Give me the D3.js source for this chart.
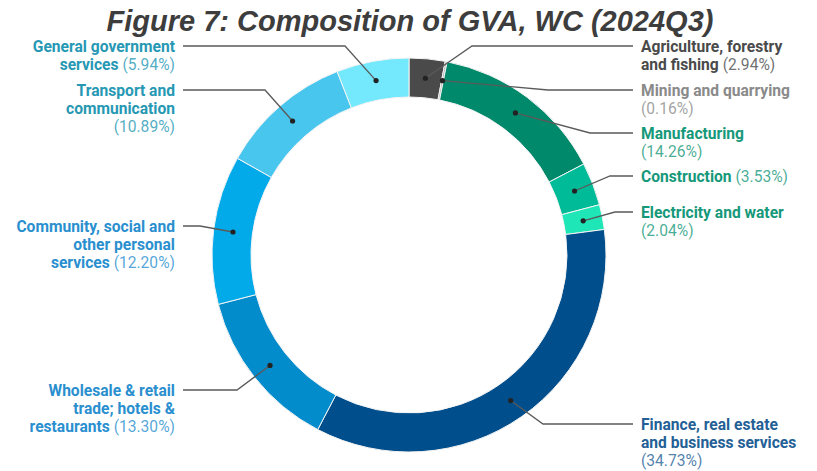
<!DOCTYPE html>
<html>
<head>
<meta charset="utf-8">
<script src="https://cdn.jsdelivr.net/npm/d3@7/dist/d3.min.js"></script>
<style>
  html, body { margin: 0; padding: 0; background: #fff; }
  svg { display: block; }
</style>
</head>
<body>
<svg id="chart" width="817" height="471"></svg>
<script>
// ---- data ----
const categories = [
  "Agriculture, forestry and fishing",
  "Mining and quarrying",
  "Manufacturing",
  "Construction",
  "Electricity and water",
  "Finance, real estate and business services",
  "Wholesale & retail trade; hotels & restaurants",
  "Community, social and other personal services",
  "Transport and communication",
  "General government services"
];
const shares = [2.94, 0.16, 14.26, 3.53, 2.04, 34.73, 13.30, 12.20, 10.89, 5.94];
const sliceColors = ["#4a4a4a", "#b3b3b3", "#00896b", "#00bb98", "#1ee6b6",
                     "#004e8c", "#038ccc", "#03aaea", "#48c6ee", "#74e8fc"];
const labelColors = ["#4a4a4a", "#8a8a8a", "#16987a", "#16987a", "#16987a",
                     "#245f96", "#2a8fcf", "#2a8fcf", "#2698b4", "#2698b4"];
// wrapped label lines (percentage appended to last line; "" means percentage on its own line)
const labelLines = [
  ["Agriculture, forestry", "and fishing"],
  ["Mining and quarrying", ""],
  ["Manufacturing", ""],
  ["Construction"],
  ["Electricity and water", ""],
  ["Finance, real estate", "and business services", ""],
  ["Wholesale & retail", "trade; hotels &", "restaurants"],
  ["Community, social and", "other personal", "services"],
  ["Transport and", "communication", ""],
  ["General government", "services"]
];
const titleText = "Figure 7: Composition of GVA, WC (2024Q3)";

// ---- layout (not data) ----
const labelLayout = [
  { side: "right", y: 46,  elbowX: 472 },
  { side: "right", y: 90,  elbowX: 548 },
  { side: "right", y: 133, elbowX: 590 },
  { side: "right", y: 176, elbowX: 610 },
  { side: "right", y: 212, elbowX: 615 },
  { side: "right", y: 424, elbowX: 543 },
  { side: "left",  y: 390, elbowX: 237 },
  { side: "left",  y: 226, elbowX: 200 },
  { side: "left",  y: 90,  elbowX: 265 },
  { side: "left",  y: 46,  elbowX: 345 }
];

const svg = d3.select("#chart");
const cx = 409, cy = 255, rOuter = 197, rInner = 158;
const lineH = 18.4;

svg.append("text")
  .attr("x", 410).attr("y", 31)
  .attr("text-anchor", "middle")
  .attr("font-family", "'Liberation Sans', Arial, sans-serif")
  .attr("font-weight", "bold").attr("font-style", "italic")
  .attr("font-size", 29)
  .attr("fill", "#3d3d3d")
  .text(titleText);

const data = categories.map((c, i) => ({ name: c, value: shares[i], i }));
const pie = d3.pie().value(d => d.value).sort(null);
const arcs = pie(data);
const arc = d3.arc().innerRadius(rInner).outerRadius(rOuter);
const midArc = d3.arc().innerRadius((rInner + rOuter) / 2).outerRadius((rInner + rOuter) / 2);

const g = svg.append("g").attr("transform", `translate(${cx},${cy})`);
g.selectAll("path.slice").data(arcs).join("path")
  .attr("class", "slice")
  .attr("d", arc)
  .attr("fill", d => sliceColors[d.data.i])
  .attr("stroke", "#f4f4f4").attr("stroke-width", 1);

// leader lines + dots
const leaders = svg.append("g");
arcs.forEach(d => {
  const i = d.data.i;
  const L = labelLayout[i];
  const [mx, my] = midArc.centroid(d);
  const px = cx + mx, py = cy + my;
  const endX = L.side === "right" ? 633 : 183;
  leaders.append("path")
    .attr("d", d3.line()([[px, py], [L.elbowX, L.y], [endX, L.y]]))
    .attr("fill", "none").attr("stroke", "#5a5a5a").attr("stroke-width", 1.3);
  leaders.append("circle").attr("cx", px).attr("cy", py).attr("r", 2.6).attr("fill", "#222");

  const tx = L.side === "right" ? 641 : 175;
  const text = svg.append("text")
    .attr("font-family", "Roboto, 'Noto Sans', sans-serif")
    .attr("font-size", 15.6)
    .attr("text-anchor", L.side === "right" ? "start" : "end")
    .attr("fill", labelColors[i]);
  const lines = labelLines[i];
  const pct = "(" + shares[i].toFixed(2) + "%)";
  lines.forEach((ln, k) => {
    const ts = text.append("tspan").attr("x", tx).attr("y", L.y + 5.5 + k * lineH);
    const isLast = k === lines.length - 1;
    if (ln !== "") {
      ts.append("tspan").attr("font-weight", "bold").text(ln);
    }
    if (isLast) {
      ts.append("tspan").attr("font-weight", "normal").attr("fill-opacity", 0.8)
        .text((ln !== "" ? " " : "") + pct);
    }
  });
});
</script>
</body>
</html>
